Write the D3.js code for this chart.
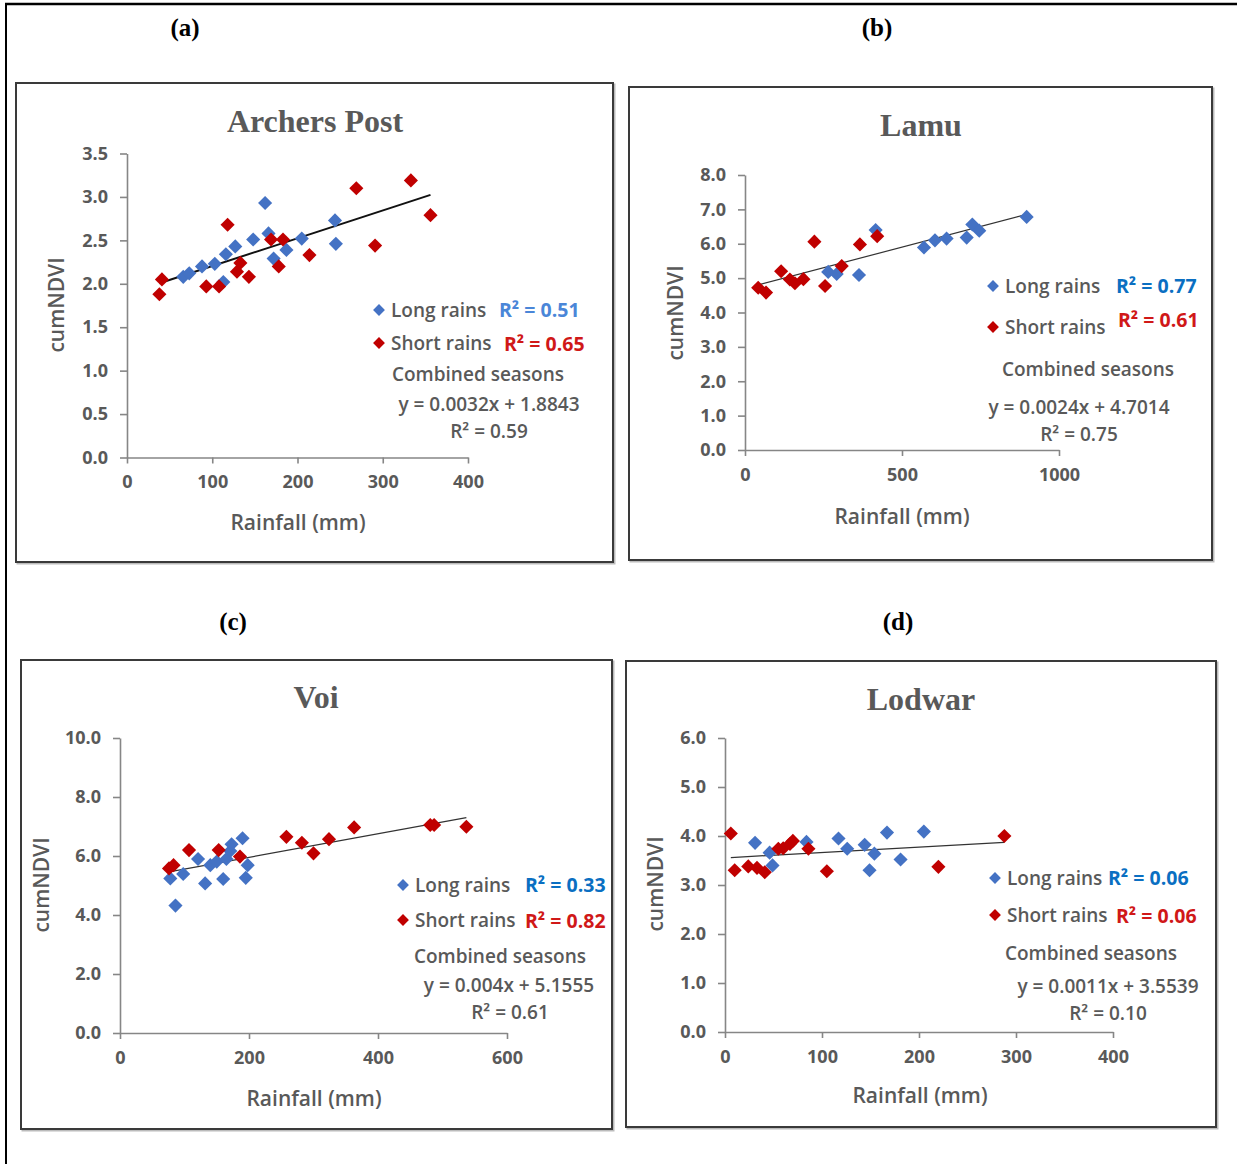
<!DOCTYPE html>
<html>
<head>
<meta charset="utf-8">
<script src="https://cdn.jsdelivr.net/npm/d3@7"></script>
<style>
  body { margin: 0; background: #fff; }
  svg text { font-family: "Open Sans", "DejaVu Sans", sans-serif; }
</style>
</head>
<body>
<svg id="fig" width="1237" height="1164"></svg>
<script>
// [rainfall mm, cumNDVI]
const archersLong = [[66,2.08],[73,2.12],[88,2.20],[103,2.23],[113,2.02],[116,2.34],[127,2.43],[148,2.51],
  [162,2.93],[166,2.58],[172,2.29],[187,2.39],[205,2.52],[244,2.73],[245,2.46]];
const archersShort = [[38,1.88],[41,2.05],[93,1.97],[108,1.97],[118,2.68],[129,2.14],[133,2.24],[143,2.08],
  [169,2.51],[178,2.20],[183,2.51],[214,2.33],[269,3.10],[291,2.44],[333,3.19],[356,2.79]];

const lamuLong = [[265,5.18],[292,5.12],[363,5.09],[416,6.40],[570,5.89],[605,6.10],[642,6.15],
  [706,6.18],[724,6.56],[746,6.38],[897,6.78]];
const lamuShort = [[42,4.72],[67,4.58],[115,5.20],[143,4.96],[159,4.85],[186,4.97],[221,6.06],
  [255,4.77],[308,5.35],[366,5.98],[421,6.22]];

const voiLong = [[78,5.24],[86,4.32],[98,5.39],[121,5.90],[132,5.07],[140,5.69],[150,5.81],[160,5.22],
  [165,5.90],[171,6.17],[173,6.40],[190,6.60],[195,5.26],[198,5.69]];
const voiShort = [[76,5.58],[83,5.69],[107,6.20],[153,6.20],[186,5.98],[258,6.65],[282,6.45],[300,6.09],
  [324,6.57],[363,6.97],[481,7.05],[487,7.05],[537,6.99]];

const lodwarLong = [[31,3.86],[46,3.66],[49,3.40],[84,3.88],[117,3.95],[126,3.74],[144,3.82],[149,3.30],
  [154,3.64],[167,4.07],[181,3.52],[205,4.09]];
const lodwarShort = [[6,4.05],[10,3.30],[24,3.38],[33,3.35],[41,3.26],[55,3.74],[60,3.75],[67,3.84],
  [70,3.90],[86,3.74],[105,3.28],[220,3.37],[288,4.00]];

const stations = ["Archers Post", "Lamu", "Voi", "Lodwar"];
const panelLetters = ["(a)", "(b)", "(c)", "(d)"];
const slopes = [0.0032, 0.0024, 0.004, 0.0011];
const intercepts = [1.8843, 4.7014, 5.1555, 3.5539];
const equations = ["y = 0.0032x + 1.8843", "y = 0.0024x + 4.7014", "y = 0.004x + 5.1555", "y = 0.0011x + 3.5539"];
const r2Long = ["0.51", "0.77", "0.33", "0.06"];
const r2Short = ["0.65", "0.61", "0.82", "0.06"];
const r2Combined = ["0.59", "0.75", "0.61", "0.10"];
const xDomains = [[0,400],[0,1000],[0,600],[0,400]];
const xTicks = [[0,100,200,300,400],[0,500,1000],[0,200,400,600],[0,100,200,300,400]];
const yDomains = [[0,3.5],[0,8],[0,10],[0,6]];
const yTicks = [[0,0.5,1,1.5,2,2.5,3,3.5],[0,1,2,3,4,5,6,7,8],[0,2,4,6,8,10],[0,1,2,3,4,5,6]];
const longSeries = [archersLong, lamuLong, voiLong, lodwarLong];
const shortSeries = [archersShort, lamuShort, voiShort, lodwarShort];

// layout per panel
const layout = [
  {box:[16,83,613,562], x:[127,468], y:[457.5,153.5], letter:[185,36], title:[315,132], ylab:[64,305], xlab:[298,530],
   leg:{x:379, y1:310, y2:343, rl:499, rs:504, comb:[478,381], eq:[489,411], rc:[489,438]}, lineW:2},
  {box:[629,87,1212,560], x:[745,1059], y:[450,175], letter:[877,36], title:[921,136], ylab:[683,313], xlab:[902,524],
   leg:{x:993, y1:286, y2:327, rl:1116, rs:1118, comb:[1088,376], eq:[1079,414], rc:[1079,441]}, lineW:1.2},
  {box:[21,660,612,1129], x:[120,507], y:[1033,738], letter:[233,630], title:[316,708], ylab:[49,885], xlab:[314,1106],
   leg:{x:403, y1:885, y2:920, rl:525, rs:525, comb:[500,963], eq:[509,992], rc:[510,1019]}, lineW:1.2},
  {box:[626,661,1216,1127], x:[725,1113], y:[1032,738], letter:[898,630], title:[921,710], ylab:[663,884], xlab:[920,1103],
   leg:{x:995, y1:878, y2:915, rl:1108, rs:1116, comb:[1091,960], eq:[1108,993], rc:[1108,1020]}, lineW:1.2}
];

const blue = "#4472C4", red = "#C00000", grey = "#595959", axisGrey = "#868686";
const svg = d3.select("#fig");

// outer frame
svg.append("line").attr("x1", 5).attr("x2", 1237).attr("y1", 4).attr("y2", 4)
  .attr("stroke", "#000").attr("stroke-width", 2.5);
svg.append("line").attr("x1", 6).attr("x2", 6).attr("y1", 3).attr("y2", 1164)
  .attr("stroke", "#000").attr("stroke-width", 2);

const diamond = d3.symbol().type(d3.symbolSquare).size(100);
const legDiamond = d3.symbol().type(d3.symbolSquare).size(70);

function drawPanel(i) {
  let L = layout[i];
  let g = svg.append("g");
  let [bx0, by0, bx1, by1] = L.box;

  g.append("text").attr("x", L.letter[0]).attr("y", L.letter[1]).attr("text-anchor", "middle")
    .style("font-family", "'Liberation Serif', serif").style("font-weight", "bold")
    .style("font-size", "25px").attr("fill", "#000").text(panelLetters[i]);

  g.append("rect").attr("x", bx0 + 1.5).attr("y", by0 + 1.5).attr("width", bx1 - bx0).attr("height", by1 - by0)
    .attr("fill", "none").attr("stroke", "#bbb").attr("stroke-width", 2);
  g.append("rect").attr("x", bx0).attr("y", by0).attr("width", bx1 - bx0).attr("height", by1 - by0)
    .attr("fill", "#fff").attr("stroke", "#3a3a3a").attr("stroke-width", 2);

  let x = d3.scaleLinear().domain(xDomains[i]).range(L.x);
  let y = d3.scaleLinear().domain(yDomains[i]).range(L.y);

  let yAxis = g.append("g").attr("transform", `translate(${L.x[0]},0)`)
    .call(d3.axisLeft(y).tickValues(yTicks[i]).tickFormat(d3.format(".1f")).tickSize(7).tickSizeOuter(0).tickPadding(12));
  let xAxis = g.append("g").attr("transform", `translate(0,${L.y[0]})`)
    .call(d3.axisBottom(x).tickValues(xTicks[i]).tickFormat(d3.format("d")).tickSize(6).tickSizeOuter(0).tickPadding(12));
  for (let a of [xAxis, yAxis]) {
    a.select(".domain").attr("stroke", axisGrey).attr("stroke-width", 1.6);
    a.selectAll(".tick line").attr("stroke", axisGrey).attr("stroke-width", 1.6);
    a.selectAll(".tick text").attr("fill", grey).style("font-size", "18px").style("font-weight", 700)
      .style("font-family", "'Open Sans', sans-serif");
  }

  g.append("text").attr("x", L.title[0]).attr("y", L.title[1]).attr("text-anchor", "middle")
    .style("font-family", "'Liberation Serif', serif").style("font-weight", "bold")
    .style("font-size", "32px").attr("fill", grey).text(stations[i]);

  g.append("text").attr("transform", `translate(${L.ylab[0]},${L.ylab[1]}) rotate(-90)`)
    .attr("text-anchor", "middle").attr("fill", grey).style("font-size", "21px").style("font-weight", 600)
    .text("cumNDVI");
  g.append("text").attr("x", L.xlab[0]).attr("y", L.xlab[1]).attr("text-anchor", "middle")
    .attr("fill", grey).style("font-size", "21px").style("font-weight", 600).text("Rainfall (mm)");

  // trend line for combined seasons
  let all = longSeries[i].concat(shortSeries[i]);
  let [mn, mx] = d3.extent(all, d => d[0]);
  g.append("line")
    .attr("x1", x(mn)).attr("y1", y(slopes[i] * mn + intercepts[i]))
    .attr("x2", x(mx)).attr("y2", y(slopes[i] * mx + intercepts[i]))
    .attr("stroke", i == 0 ? "#111" : "#333").attr("stroke-width", L.lineW);

  g.selectAll(".lp").data(longSeries[i]).enter().append("path")
    .attr("d", diamond).attr("fill", blue)
    .attr("transform", d => `translate(${x(d[0])},${y(d[1])}) rotate(45)`);
  g.selectAll(".sp").data(shortSeries[i]).enter().append("path")
    .attr("d", diamond).attr("fill", red)
    .attr("transform", d => `translate(${x(d[0])},${y(d[1])}) rotate(45)`);

  // legend
  let lg = L.leg;
  g.append("path").attr("d", legDiamond).attr("fill", blue)
    .attr("transform", `translate(${lg.x},${lg.y1}) rotate(45)`);
  g.append("path").attr("d", legDiamond).attr("fill", red)
    .attr("transform", `translate(${lg.x},${lg.y2}) rotate(45)`);
  g.append("text").attr("x", lg.x + 12).attr("y", lg.y1 + 7).attr("fill", grey)
    .style("font-size", "19px").style("font-weight", 600).text("Long rains");
  g.append("text").attr("x", lg.x + 12).attr("y", lg.y2 + 7).attr("fill", grey)
    .style("font-size", "19px").style("font-weight", 600).text("Short rains");
  g.append("text").attr("x", lg.rl).attr("y", lg.y1 + 7).attr("fill", i == 0 ? "#4a86d8" : "#0a6fc2")
    .style("font-size", "19.5px").style("font-weight", 700).text("R² = " + r2Long[i]);
  g.append("text").attr("x", lg.rs).attr("y", lg.y2 + (i == 1 ? 0 : 8)).attr("fill", "#d01818")
    .style("font-size", "19.5px").style("font-weight", 700).text("R² = " + r2Short[i]);
  g.append("text").attr("x", lg.comb[0]).attr("y", lg.comb[1]).attr("text-anchor", "middle").attr("fill", grey)
    .style("font-size", "19px").style("font-weight", 600).text("Combined seasons");
  g.append("text").attr("x", lg.eq[0]).attr("y", lg.eq[1]).attr("text-anchor", "middle").attr("fill", grey)
    .style("font-size", "19px").style("font-weight", 600).text(equations[i]);
  g.append("text").attr("x", lg.rc[0]).attr("y", lg.rc[1]).attr("text-anchor", "middle").attr("fill", grey)
    .style("font-size", "19px").style("font-weight", 600).text("R² = " + r2Combined[i]);
}

for (let i = 0; i < 4; i++) drawPanel(i);
</script>
</body>
</html>
